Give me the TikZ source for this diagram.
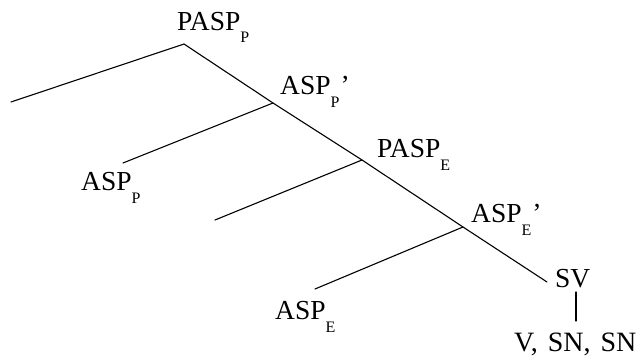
\documentclass[tikz,border=0pt]{standalone}
\usepackage{fontspec}
\setmainfont{Liberation Serif}
\newcommand\sbs[1]{\raisebox{-13pt}{\fontsize{16}{16}\selectfont #1}}
\begin{document}
\begin{tikzpicture}[x=1pt,y=-1pt,
  lab/.style={anchor=base west,inner sep=0pt,font=\fontsize{27.5}{30}\selectfont},
  edge/.style={line width=1.1pt,line cap=round}]
\useasboundingbox (0,0) rectangle (640,356);
% labels
\node[lab] (paspp) at (177,30) {PASP\sbs{P}};
\node[lab] (aspp1) at (280,94) {ASP\sbs{P}\kern1pt'};
\node[lab] (aspp) at (81,190) {ASP\sbs{P}};
\node[lab] (pasppe) at (377,157) {PASP\sbs{E}};
\node[lab] (aspe1) at (471,222) {ASP\sbs{E}\kern1pt'};
\node[lab] (aspe) at (275,319) {ASP\sbs{E}};
\node[lab] (sv) at (555,287) {SV};
\node[lab,font=\fontsize{28}{30}\selectfont] (vsn) at (514,351) {\spaceskip=10pt V, SN, SN};
% junctions
\coordinate (apex) at (184,44);
\coordinate (b1) at (273,103);
\coordinate (b2) at (362,160);
\coordinate (b3) at (463,227);
\coordinate (svtop) at (547,282);
\coordinate (l0) at (11,102);
\coordinate (l1) at (123,163);
\coordinate (l2) at (215,220);
\coordinate (l3) at (315,289);
\coordinate (svb) at (576,292);
\coordinate (vsnt) at (576,321);
% connectors
\draw[edge] (apex) -- (b1) -- (b2) -- (b3) -- (svtop);
\draw[edge] (apex) -- (l0);
\draw[edge] (b1) -- (l1);
\draw[edge] (b2) -- (l2);
\draw[edge] (b3) -- (l3);
\draw[edge] (svb) -- (vsnt);
\end{tikzpicture}
\end{document}
